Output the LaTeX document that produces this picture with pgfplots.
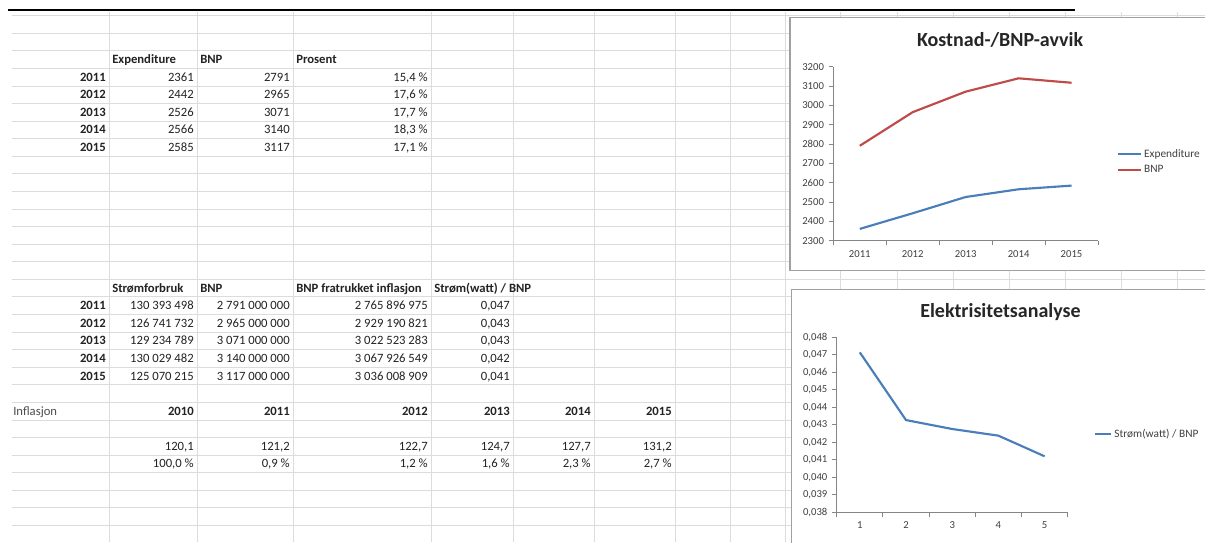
\documentclass[border=0pt]{standalone}
\usepackage{pgfplots}
\pgfplotsset{compat=1.18}
\usepackage{fontspec}
\setmainfont{Carlito}
\definecolor{gridc}{RGB}{218,220,221}
\definecolor{exblue}{RGB}{74,126,187}
\definecolor{bnpred}{RGB}{190,75,72}
\definecolor{axgray}{RGB}{134,134,134}
\definecolor{txt}{RGB}{35,35,35}
\definecolor{frame}{RGB}{160,160,160}
\newcommand{\cellR}[3]{\node[anchor=base east,inner sep=0pt] at ({#1-3},{15.7+17.58*(#2+0.5)+4}) {#3};}
\newcommand{\cellL}[3]{\node[anchor=base west,inner sep=0pt] at ({#1+3},{15.7+17.58*(#2+0.5)+4}) {#3};}
\pgfplotsset{
  xlsaxis/.style={
    scale only axis,
    xmin=0.5, xmax=5.5,
    axis lines*=left,
    axis line style={axgray, line width=0.75pt},
    xtick={1,2,3,4,5},
    major x tick style={draw=none},
    minor xtick={0.5,1.5,2.5,3.5,4.5,5.5},
    tick align=outside,
    tick style={axgray, line width=0.75pt},
    major tick length=3.5pt,
    minor tick length=3.5pt,
    scaled y ticks=false,
    ticklabel style={font=\fontsize{8}{9}\selectfont, text=black!75},
    /pgf/number format/assume math mode=true,
    every axis title shift=0pt,
    legend style={draw=none, fill=none, inner sep=0pt, font=\fontsize{8.5}{10}\selectfont, text=black!75, row sep=5pt, cells={anchor=west}, nodes={inner xsep=1.5pt, inner ysep=0pt}},
  }
}
\begin{document}
\begin{tikzpicture}
\path[use as bounding box] (0,0) rectangle (903.75pt,-406.5pt);
\clip (0,0) rectangle (903.75pt,-406.5pt);
\begin{scope}[x=0.75pt,y=-0.75pt, font=\fontsize{9.5}{11}\selectfont, text=txt]
  \fill[white] (0,0) rectangle (1205,542);
  \foreach \k in {0,...,30} \draw[gridc, line width=0.75pt] (12,{15.7+17.58*\k}) -- (1205,{15.7+17.58*\k});
  \foreach \x in {109,197,293,431,513,594,675,730,785,840,897,953,1009,1065,1121,1177}
     \draw[gridc, line width=0.75pt] (\x,12) -- (\x,542);
  \draw[black, line width=1.5pt] (8,10) -- (1075,10);
  % upper table
  \cellL{109}{2}{\bfseries Expenditure}
  \cellL{197}{2}{\bfseries BNP}
  \cellL{293}{2}{\bfseries Prosent}
  \cellR{109}{3}{\bfseries 2011} \cellR{197}{3}{2361} \cellR{293}{3}{2791} \cellR{431}{3}{15,4 \%}
  \cellR{109}{4}{\bfseries 2012} \cellR{197}{4}{2442} \cellR{293}{4}{2965} \cellR{431}{4}{17,6 \%}
  \cellR{109}{5}{\bfseries 2013} \cellR{197}{5}{2526} \cellR{293}{5}{3071} \cellR{431}{5}{17,7 \%}
  \cellR{109}{6}{\bfseries 2014} \cellR{197}{6}{2566} \cellR{293}{6}{3140} \cellR{431}{6}{18,3 \%}
  \cellR{109}{7}{\bfseries 2015} \cellR{197}{7}{2585} \cellR{293}{7}{3117} \cellR{431}{7}{17,1 \%}
  % lower table
  \cellL{109}{15}{\bfseries Strømforbruk}
  \cellL{197}{15}{\bfseries BNP}
  \cellL{293}{15}{\bfseries BNP fratrukket inflasjon}
  \cellL{431}{15}{\bfseries Strøm(watt) / BNP}
  \cellR{109}{16}{\bfseries 2011} \cellR{197}{16}{130 393 498} \cellR{293}{16}{2 791 000 000} \cellR{431}{16}{2 765 896 975} \cellR{513}{16}{0,047}
  \cellR{109}{17}{\bfseries 2012} \cellR{197}{17}{126 741 732} \cellR{293}{17}{2 965 000 000} \cellR{431}{17}{2 929 190 821} \cellR{513}{17}{0,043}
  \cellR{109}{18}{\bfseries 2013} \cellR{197}{18}{129 234 789} \cellR{293}{18}{3 071 000 000} \cellR{431}{18}{3 022 523 283} \cellR{513}{18}{0,043}
  \cellR{109}{19}{\bfseries 2014} \cellR{197}{19}{130 029 482} \cellR{293}{19}{3 140 000 000} \cellR{431}{19}{3 067 926 549} \cellR{513}{19}{0,042}
  \cellR{109}{20}{\bfseries 2015} \cellR{197}{20}{125 070 215} \cellR{293}{20}{3 117 000 000} \cellR{431}{20}{3 036 008 909} \cellR{513}{20}{0,041}
  % inflation
  \node[anchor=base west,inner sep=0pt,text=black!70] at (13,{15.7+17.58*22.5+4}) {Inflasjon};
  \cellR{197}{22}{\bfseries 2010} \cellR{293}{22}{\bfseries 2011} \cellR{431}{22}{\bfseries 2012} \cellR{513}{22}{\bfseries 2013} \cellR{594}{22}{\bfseries 2014} \cellR{675}{22}{\bfseries 2015}
  \cellR{197}{24}{120,1} \cellR{293}{24}{121,2} \cellR{431}{24}{122,7} \cellR{513}{24}{124,7} \cellR{594}{24}{127,7} \cellR{675}{24}{131,2}
  \cellR{197}{25}{100,0 \%} \cellR{293}{25}{0,9 \%} \cellR{431}{25}{1,2 \%} \cellR{513}{25}{1,6 \%} \cellR{594}{25}{2,3 \%} \cellR{675}{25}{2,7 \%}
  % chart frames
  \draw[frame, fill=white, line width=0.9pt] (790,17.3) rectangle (1215,270.5);
  \draw[frame, fill=white, line width=0.9pt] (791.5,289.3) rectangle (1215,560);
\end{scope}

\begin{axis}[xlsaxis,
  at={(624.975pt,-180.525pt)}, anchor=south west,
  width=198.525pt, height=130.5pt,
  ymin=2300, ymax=3200,
  ytick={2300,2400,2500,2600,2700,2800,2900,3000,3100,3200},
  yticklabel style={/pgf/number format/1000 sep={}},
  xticklabels={2011,2012,2013,2014,2015},
  title={Kostnad-/BNP-avvik},
  title style={at={(0.63,1.153)}, anchor=center, yshift=0pt, font=\fontsize{15}{17}\selectfont\bfseries, text=black!85},
  legend style={at={(1.072,0.452)}, anchor=west},
  legend image code/.code={\draw[#1] (0pt,0pt) -- (17pt,0pt);},
]
\addplot[exblue, line width=1.6pt, mark=none] coordinates {(1,2361)(2,2442)(3,2526)(4,2566)(5,2585)};
\addlegendentry{Expenditure}
\addplot[bnpred, line width=1.6pt, mark=none] coordinates {(1,2791)(2,2965)(3,3071)(4,3140)(5,3117)};
\addlegendentry{BNP}
\end{axis}

\begin{axis}[xlsaxis,
  at={(627.525pt,-384.225pt)}, anchor=south west,
  width=173.25pt, height=131.25pt,
  ymin=0.038, ymax=0.048,
  ytick={0.038,0.039,0.040,0.041,0.042,0.043,0.044,0.045,0.046,0.047,0.048},
  yticklabel style={/pgf/number format/.cd, fixed, fixed zerofill, precision=3, use comma},
  xticklabels={1,2,3,4,5},
  title={Elektrisitetsanalyse},
  title style={at={(0.709,1.146)}, anchor=center, yshift=0pt, font=\fontsize{15}{17}\selectfont\bfseries, text=black!85},
  legend style={at={(1.114,0.447)}, anchor=west},
  legend image code/.code={\draw[#1] (0pt,0pt) -- (12pt,0pt);},
]
\addplot[exblue, line width=1.6pt, mark=none] coordinates {(1,0.04714)(2,0.04327)(3,0.04276)(4,0.04238)(5,0.04120)};
\addlegendentry{Strøm(watt) / BNP}
\end{axis}
\end{tikzpicture}
\end{document}
